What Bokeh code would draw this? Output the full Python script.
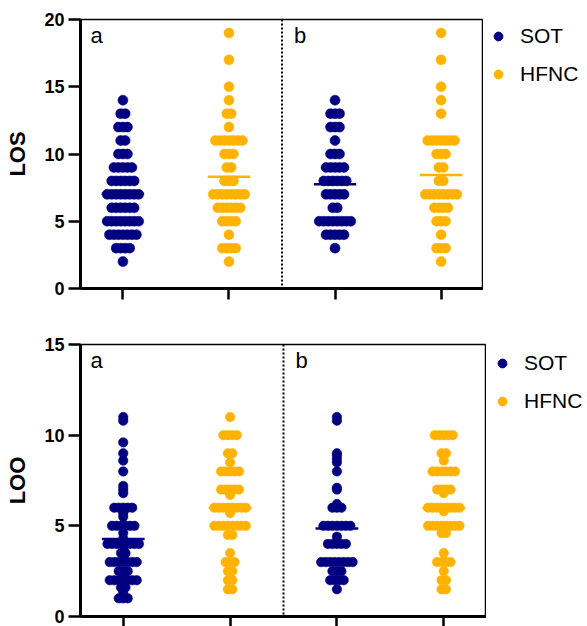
from bokeh.plotting import figure
from bokeh.models import Span, Label, Legend, LegendItem, ColumnDataSource, FixedTicker
from bokeh.layouts import column, row
from bokeh.embed import file_html
from bokeh.resources import INLINE

# ---------------- data ----------------
group_names = ["SOT", "HFNC", "SOT", "HFNC"]
group_pos = [1, 2, 3, 4]
subset_labels = ["a", "b"]
legend_labels = ["SOT", "HFNC"]

# LOS (top panel): value levels and number of patients at each level
los_sot_a_vals = [2, 3, 4, 5, 6, 7, 8, 9, 10, 11, 12, 13, 14]
los_sot_a_cnts = [1, 4, 7, 8, 6, 8, 6, 5, 3, 2, 3, 2, 1]
los_hfnc_a_vals = [2, 3, 4, 5, 6, 7, 8, 9, 10, 11, 12, 13, 14, 15, 17, 19]
los_hfnc_a_cnts = [1, 4, 1, 4, 6, 8, 3, 2, 3, 7, 1, 2, 1, 1, 1, 1]
los_sot_b_vals = [3, 4, 5, 6, 7, 8, 9, 10, 11, 12, 13, 14]
los_sot_b_cnts = [1, 5, 8, 2, 5, 6, 5, 3, 1, 3, 3, 1]
los_hfnc_b_vals = [2, 3, 4, 5, 6, 7, 8, 9, 10, 11, 13, 14, 15, 17, 19]
los_hfnc_b_cnts = [1, 3, 1, 3, 4, 8, 2, 2, 3, 7, 1, 1, 1, 1, 1]
los_ticks = [0, 5, 10, 15, 20]

# LOO (bottom panel)
loo_sot_a_vals = [1, 1.3, 1.6, 2, 2.3, 2.5, 3, 3.3, 3.5, 3.8, 4, 4.3, 4.6, 5, 5.5, 5.7,
                  6, 6.8, 7, 7.2, 8, 8.6, 9, 9.6, 10.8, 11]
loo_sot_a_cnts = [3, 1, 2, 7, 1, 3, 7, 1, 2, 1, 8, 1, 1, 6, 1, 1,
                  5, 1, 1, 1, 1, 1, 1, 1, 1, 1]
loo_hfnc_a_vals = [1.5, 2, 2.5, 3, 3.5, 4.5, 5, 5.7, 6, 6.7, 7, 8, 8.5, 9, 10, 11]
loo_hfnc_a_cnts = [2, 2, 2, 3, 1, 2, 8, 1, 8, 1, 5, 5, 1, 2, 4, 1]
loo_sot_b_vals = [1.5, 2, 2.5, 3, 4, 4.4, 5, 6, 6.2, 7, 7.1, 8, 8.5, 8.7, 8.9, 9, 10.8, 11]
loo_sot_b_cnts = [1, 4, 3, 8, 5, 1, 7, 3, 1, 1, 1, 1, 1, 1, 1, 1, 1, 1]
loo_hfnc_b_vals = [1.5, 2, 2.5, 3, 3.5, 4.6, 5, 5.8, 6, 6.8, 7, 8, 8.6, 9, 10]
loo_hfnc_b_cnts = [2, 2, 1, 4, 1, 2, 8, 1, 8, 1, 4, 6, 1, 2, 5]
loo_ticks = [0, 5, 10, 15]

# ---------------- style ----------------
NAVY = "#000080"
AMBER = "#FFB300"
COLORS = {"SOT": NAVY, "HFNC": AMBER}
FONT = "Liberation Sans"
PAGE_W = 587
BORDER_L = 80
X_RANGE = (0.6, 4.4)
DOT_STEP_PX = 4.5


def swarm(vals, cnts, pos, step):
    xs, ys = [], []
    for v, n in zip(vals, cnts):
        for i in range(n):
            xs.append(pos + (i - (n - 1) / 2) * step)
            ys.append(v)
    return xs, ys


def mean_of(vals, cnts):
    return sum(v * n for v, n in zip(vals, cnts)) / sum(cnts)


def make_panel(ylabel, series, y_end, yticks, height, b_top, b_bottom, main_w,
               dot_size, tick_out_x, leg_glyph_x, leg_top):
    p = figure(width=main_w, height=height, x_range=X_RANGE, y_range=(0, y_end),
               output_backend="svg", toolbar_location=None,
               min_border_left=BORDER_L, min_border_right=0,
               min_border_top=b_top, min_border_bottom=b_bottom)
    p.xgrid.visible = False
    p.ygrid.visible = False
    p.outline_line_color = "black"
    p.outline_line_width = 1.5
    p.background_fill_color = "white"
    step = DOT_STEP_PX / ((main_w - BORDER_L) / (X_RANGE[1] - X_RANGE[0]))

    # axes
    p.yaxis.ticker = FixedTicker(ticks=yticks)
    p.yaxis.minor_tick_line_color = None
    p.yaxis.major_tick_in = 0
    p.yaxis.major_tick_out = 12
    p.yaxis.major_tick_line_width = 2.5
    p.yaxis.axis_line_width = 3
    p.yaxis.major_label_text_font = FONT
    p.yaxis.major_label_text_font_style = "bold"
    p.yaxis.major_label_text_font_size = "18px"
    p.yaxis.major_label_text_color = "black"
    p.yaxis.major_label_standoff = 4
    p.yaxis.axis_label = ylabel
    p.yaxis.axis_label_text_font = FONT
    p.yaxis.axis_label_text_font_style = "bold"
    p.yaxis.axis_label_text_font_size = "22px"
    p.yaxis.axis_label_text_color = "black"
    p.yaxis.axis_label_standoff = 11

    p.xaxis.ticker = FixedTicker(ticks=group_pos)
    p.xaxis.minor_tick_line_color = None
    p.xaxis.major_tick_in = 0
    p.xaxis.major_tick_out = tick_out_x
    p.xaxis.major_tick_line_width = 2.5
    p.xaxis.axis_line_width = 3
    p.xaxis.major_label_overrides = {k: "" for k in group_pos}
    p.xaxis.major_label_text_font_size = "1px"
    p.xaxis.major_label_text_color = None
    p.xaxis.major_label_standoff = 0

    # divider between subset a and b
    p.add_layout(Span(location=2.5, dimension="height", line_color="black",
                      line_width=2, line_dash="2 2"))

    sources = {}
    for label in legend_labels:
        xs, ys = [], []
        for (vals, cnts, pos, name) in series:
            if name != label:
                continue
            sx, sy = swarm(vals, cnts, pos, step)
            xs += sx
            ys += sy
        sources[label] = ColumnDataSource(dict(x=xs, y=ys))
        p.scatter("x", "y", source=sources[label], size=dot_size,
                  fill_color=COLORS[label], line_color=COLORS[label], line_width=0.5)

    # mean lines
    for (vals, cnts, pos, name) in series:
        m = mean_of(vals, cnts)
        p.segment(x0=[pos - 0.2], x1=[pos + 0.2], y0=[m], y1=[m],
                  line_color=COLORS[name], line_width=2.5)

    # subset letters
    for xpos, off, txt in zip([0.6, 2.5], [10, 12], subset_labels):
        p.add_layout(Label(x=xpos, y=y_end, x_offset=off, y_offset=-3, text=txt,
                           text_baseline="top", text_font=FONT, text_font_size="22px",
                           text_color="black"))

    # legend in a separate narrow canvas to the right (same data sources, viewed
    # through ranges where no point falls, so only the legend shows)
    leg_w = PAGE_W - main_w
    lf = figure(width=leg_w, height=height, x_range=(-3, -2), y_range=(-3, -2),
                output_backend="svg", toolbar_location=None,
                min_border_left=0, min_border_right=0, min_border_top=0, min_border_bottom=0)
    lf.axis.visible = False
    lf.xgrid.visible = False
    lf.ygrid.visible = False
    lf.outline_line_color = None
    items = []
    for label in legend_labels:
        r = lf.scatter("x", "y", source=sources[label], size=dot_size,
                       fill_color=COLORS[label], line_color=COLORS[label])
        items.append(LegendItem(label=label, renderers=[r]))
    glyph_w, item_h, spacing = 22, 22, 14
    box_h = 2 * item_h + spacing
    legend = Legend(items=items,
                    location=(leg_glyph_x - 2 - glyph_w / 2,
                              height - (leg_top - item_h / 2) - box_h - 14),
                    border_line_color=None, background_fill_alpha=0,
                    padding=0, margin=0, spacing=spacing,
                    glyph_width=glyph_w, glyph_height=item_h, label_height=item_h,
                    label_standoff=11, label_text_font=FONT,
                    label_text_font_size="21px", label_text_color="black")
    lf.add_layout(legend)
    return row(p, lf)


top_series = [
    (los_sot_a_vals, los_sot_a_cnts, group_pos[0], group_names[0]),
    (los_hfnc_a_vals, los_hfnc_a_cnts, group_pos[1], group_names[1]),
    (los_sot_b_vals, los_sot_b_cnts, group_pos[2], group_names[2]),
    (los_hfnc_b_vals, los_hfnc_b_cnts, group_pos[3], group_names[3]),
]
bottom_series = [
    (loo_sot_a_vals, loo_sot_a_cnts, group_pos[0], group_names[0]),
    (loo_hfnc_a_vals, loo_hfnc_a_cnts, group_pos[1], group_names[1]),
    (loo_sot_b_vals, loo_sot_b_cnts, group_pos[2], group_names[2]),
    (loo_hfnc_b_vals, loo_hfnc_b_cnts, group_pos[3], group_names[3]),
]

r1 = make_panel("LOS", top_series, 20, los_ticks, 300, 19, 12, 483, 10, 11, 17, 37)
r2 = make_panel("LOO", bottom_series, 15, loo_ticks, 326, 44, 10, 486, 9.5, 10, 18, 62)

layout = column(r1, r2)
open("out.html", "w").write(file_html(layout, INLINE))
